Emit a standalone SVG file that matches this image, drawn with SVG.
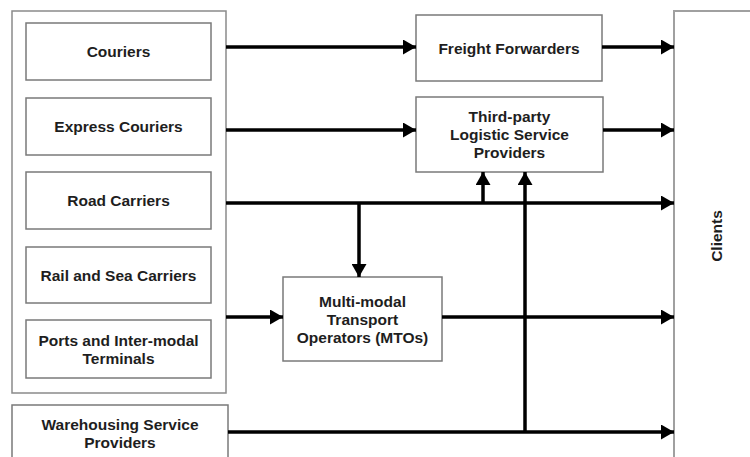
<svg xmlns="http://www.w3.org/2000/svg" width="750" height="457" viewBox="0 0 750 457">
<defs>
<style>
.box{fill:#fff;stroke:#7a7a7a;stroke-width:1.5}
.outer{fill:#fff;stroke:#8a8a8a;stroke-width:1.5}
.clients{fill:#fff;stroke:#a0a0a0;stroke-width:2}
.t{font-family:"Liberation Sans",Arial,sans-serif;font-weight:bold;font-size:15.5px;fill:#1e1e1e;text-anchor:middle}
.c{fill:none;stroke:#000;stroke-width:3.5}
.a{marker-end:url(#ah)}
</style>
<marker id="ah" markerUnits="userSpaceOnUse" markerWidth="14" markerHeight="15" refX="13" refY="7.5" orient="auto">
<path d="M0,0 L13,7.5 L0,15 z" fill="#000"/>
</marker>
</defs>
<rect width="750" height="457" fill="#fff"/>
<g id="providers-group"><rect class="outer" x="12" y="11" width="214" height="382"/></g>
<g id="couriers"><rect class="box" x="26" y="23" width="185" height="57"/><text class="t" x="118.5" y="57">Couriers</text></g>
<g id="express-couriers"><rect class="box" x="26" y="98" width="185" height="57"/><text class="t" x="118.5" y="132">Express Couriers</text></g>
<g id="road-carriers"><rect class="box" x="26" y="172" width="185" height="57"/><text class="t" x="118.5" y="206">Road Carriers</text></g>
<g id="rail-sea"><rect class="box" x="26" y="247" width="185" height="56"/><text class="t" x="118.5" y="281">Rail and Sea Carriers</text></g>
<g id="ports"><rect class="box" x="26" y="320" width="185" height="58"/><text class="t" x="118.5" y="346">Ports and Inter-modal</text><text class="t" x="118.5" y="364">Terminals</text></g>
<g id="warehousing"><rect class="box" x="12" y="405" width="216" height="70"/><text class="t" x="120" y="430">Warehousing Service</text><text class="t" x="120" y="448">Providers</text></g>
<g id="freight-forwarders"><rect class="box" x="416" y="15" width="186" height="66"/><text class="t" x="509" y="54">Freight Forwarders</text></g>
<g id="third-party"><rect class="box" x="416" y="97" width="187" height="75"/><text class="t" x="509.5" y="122">Third-party</text><text class="t" x="509.5" y="140">Logistic Service</text><text class="t" x="509.5" y="158">Providers</text></g>
<g id="mto"><rect class="box" x="283" y="277" width="159" height="84"/><text class="t" x="362.5" y="307">Multi-modal</text><text class="t" x="362.5" y="325">Transport</text><text class="t" x="362.5" y="343">Operators (MTOs)</text></g>
<g id="clients"><rect class="clients" x="674" y="11" width="100" height="480"/><text class="t" transform="translate(722,236) rotate(-90)">Clients</text></g>
<g id="connectors">
<line class="c a" x1="226" y1="47" x2="416" y2="47"/>
<line class="c a" x1="226" y1="130" x2="416" y2="130"/>
<line class="c a" x1="602" y1="47" x2="674" y2="47"/>
<line class="c a" x1="603" y1="130" x2="674" y2="130"/>
<line class="c a" x1="226" y1="203" x2="674" y2="203"/>
<line class="c a" x1="483" y1="203" x2="483" y2="172"/>
<line class="c a" x1="359" y1="203" x2="359" y2="277"/>
<line class="c a" x1="226" y1="317" x2="283" y2="317"/>
<line class="c a" x1="442" y1="317" x2="674" y2="317"/>
<line class="c a" x1="228" y1="432" x2="674" y2="432"/>
<line class="c a" x1="525" y1="432" x2="525" y2="172"/>
</g>
</svg>
